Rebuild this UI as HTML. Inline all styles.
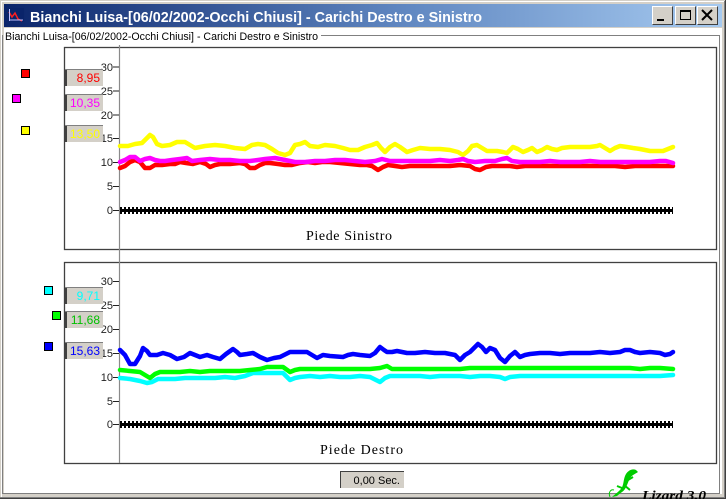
<!DOCTYPE html>
<html><head><meta charset="utf-8"><style>
html,body{margin:0;padding:0;width:726px;height:499px;overflow:hidden;background:#fff}
svg{display:block}
</style></head><body>
<svg width="726" height="499" viewBox="0 0 726 499" xmlns="http://www.w3.org/2000/svg">
<defs>
<linearGradient id="tb" x1="0" x2="1" y1="0" y2="0">
<stop offset="0" stop-color="#0a246a"/><stop offset="0.55" stop-color="#5f86c0"/><stop offset="1" stop-color="#a6caf0"/>
</linearGradient>
<pattern id="zp" x="120" y="0" width="4" height="499" patternUnits="userSpaceOnUse">
<rect x="0" y="0" width="2" height="499" fill="#000"/>
</pattern>
</defs>
<!-- window frame -->
<rect x="0" y="0" width="726" height="499" fill="#d4d0c8"/>
<line x1="1.5" y1="1" x2="1.5" y2="497" stroke="#fff"/>
<line x1="1" y1="1.5" x2="724" y2="1.5" stroke="#fff"/>
<line x1="0" y1="498.5" x2="726" y2="498.5" stroke="#404040"/>
<line x1="0" y1="497.5" x2="726" y2="497.5" stroke="#808080"/>
<line x1="725.5" y1="0" x2="725.5" y2="499" stroke="#404040"/>
<line x1="724.5" y1="1" x2="724.5" y2="498" stroke="#808080"/>
<!-- client -->
<rect x="4" y="28" width="718" height="466" fill="#fff"/>
<!-- title bar -->
<rect x="4" y="4" width="718" height="23" fill="url(#tb)"/>
<g>
<rect x="8" y="8" width="16" height="14" fill="#0a246a"/>
<polyline points="9,12 12,17 15,13 18,19 22,21" fill="none" stroke="#ff2020" stroke-width="1.5"/>
<polyline points="9,20 23,20" stroke="#c0c0ff" stroke-width="1"/>
<line x1="9.5" y1="9" x2="9.5" y2="21" stroke="#c0c0ff"/>
</g>
<text x="30" y="22" font-family="Liberation Sans, sans-serif" font-size="15" font-weight="bold" fill="#fff" textLength="452" lengthAdjust="spacingAndGlyphs">Bianchi Luisa-[06/02/2002-Occhi Chiusi] - Carichi Destro e Sinistro</text>
<!-- buttons -->
<g font-family="Liberation Sans, sans-serif">
<rect x="652" y="6" width="21" height="19" fill="#d4d0c8"/>
<polyline points="652.5,24.5 652.5,6.5 672.5,6.5" fill="none" stroke="#fff"/>
<polyline points="652.5,24.5 672.5,24.5 672.5,6.5" fill="none" stroke="#404040"/>
<rect x="657" y="19" width="7" height="2" fill="#000"/>
<rect x="675" y="6" width="21" height="19" fill="#d4d0c8"/>
<polyline points="675.5,24.5 675.5,6.5 695.5,6.5" fill="none" stroke="#fff"/>
<polyline points="675.5,24.5 695.5,24.5 695.5,6.5" fill="none" stroke="#404040"/>
<rect x="680.5" y="10.5" width="10" height="9" fill="none" stroke="#000"/>
<line x1="680" y1="11.5" x2="691" y2="11.5" stroke="#000"/>
<rect x="697" y="6" width="21" height="19" fill="#d4d0c8"/>
<polyline points="697.5,24.5 697.5,6.5 717.5,6.5" fill="none" stroke="#fff"/>
<polyline points="697.5,24.5 717.5,24.5 717.5,6.5" fill="none" stroke="#404040"/>
<path d="M702 10 L712 20 M712 10 L702 20" stroke="#000" stroke-width="2"/>
</g>
<!-- group box -->
<text x="5" y="40" font-family="Liberation Sans, sans-serif" font-size="11" fill="#000" textLength="313" lengthAdjust="spacingAndGlyphs">Bianchi Luisa-[06/02/2002-Occhi Chiusi] - Carichi Destro e Sinistro</text>
<line x1="321" y1="35.5" x2="720" y2="35.5" stroke="#808080"/>
<line x1="321" y1="36.5" x2="720" y2="36.5" stroke="#fff"/>
<line x1="719.5" y1="35" x2="719.5" y2="493" stroke="#808080"/>
<line x1="2.5" y1="35" x2="2.5" y2="494" stroke="#808080"/>
<line x1="2" y1="493.5" x2="720" y2="493.5" stroke="#808080"/>
<!-- panels -->
<rect x="64.5" y="47.5" width="652" height="202" fill="#fff" stroke="#404040" stroke-width="1.3"/>
<rect x="64.5" y="262.5" width="652" height="201" fill="#fff" stroke="#404040" stroke-width="1.3"/>
<!-- vertical axis -->
<line x1="119.5" y1="45" x2="119.5" y2="463" stroke="#8a8a8a" stroke-width="1.2"/>
<!-- ticks top -->
<g font-family="Liberation Sans, sans-serif" font-size="11" fill="#222" text-anchor="end">
<text x="113" y="71">30</text><text x="113" y="95">25</text><text x="113" y="119">20</text><text x="113" y="142">15</text><text x="113" y="166">10</text><text x="113" y="190">5</text><text x="113" y="214">0</text>
<text x="113" y="285">30</text><text x="113" y="309">25</text><text x="113" y="333">20</text><text x="113" y="357">15</text><text x="113" y="381">10</text><text x="113" y="405">5</text><text x="113" y="428">0</text>
</g>
<g stroke="#222" stroke-width="1">
<path d="M113 67h6M113 91h6M113 115h6M113 138.5h6M113 162.5h6M113 186.5h6M113 210.5h6"/>
<path d="M113 281.5h6M113 305.5h6M113 329.5h6M113 353.5h6M113 377.5h6M113 401.5h6M113 424.5h6"/>
</g>
<!-- zero lines -->
<rect x="120" y="209" width="553" height="3" fill="#000"/>
<rect x="120" y="207" width="553" height="7" fill="url(#zp)"/>
<rect x="120" y="423" width="553" height="3" fill="#000"/>
<rect x="120" y="421" width="553" height="7" fill="url(#zp)"/>
<!-- series top -->
<g fill="none" stroke-width="4.5" stroke-linejoin="round" stroke-linecap="round">
<polyline stroke="#ffff00" points="120,146 128,146 135,144 142,143 147,138 150,135 153,137 157,144 162,146 170,145 177,142 185,142 190,145 195,148 205,146 215,145 225,146 235,148 245,149 252,145 258,144 265,145 272,149 278,153 285,155 290,153 295,145 300,144 305,142 310,146 318,147 325,145 335,146 343,148 350,150 358,150 365,147 372,145 377,143 381,148 385,152 390,147 395,144 400,147 407,152 413,150 420,148 430,149 440,149 450,150 458,152 463,155 468,151 472,146 477,145 482,148 487,151 497,151 503,152 507,153 513,147 518,149 523,152 528,150 532,148 537,152 542,150 547,147 552,149 557,150 562,148 570,147 580,147 590,147 597,146 600,145 605,148 610,151 615,148 620,146 627,147 633,148 640,149 650,151 657,151 663,151 668,149 673,147"/>
<polyline stroke="#ff0000" points="120,168 125,166 130,162 135,160 140,162 145,168 150,168 155,165 162,165 170,164 175,164 180,162 186,163 193,164 200,162 206,164 210,167 215,165 220,164 230,164 240,163 245,164 250,168 255,168 260,165 265,163 270,163 278,164 285,165 292,165 300,163 308,162 315,163 322,162 330,162 340,163 350,164 360,165 367,165 372,166 378,170 383,167 388,165 395,166 402,167 410,166 420,166 430,166 440,166 450,166 460,165 470,166 475,169 480,170 486,167 492,166 500,166 510,166 517,167 525,166 535,166 545,166 555,166 565,166 575,166 585,166 595,166 605,166 615,166 625,167 635,166 645,166 655,166 665,166 673,166"/>
<polyline stroke="#ff00ff" points="120,162 125,160 130,157 135,157 140,161 145,159 150,158 155,160 160,161 165,161 172,160 180,159 187,158 192,161 200,160 210,159 220,160 230,160 240,161 250,161 258,160 265,159 275,158 285,160 295,162 305,162 315,161 325,161 335,160 345,160 355,161 365,162 375,161 382,159 390,161 400,161 410,161 420,161 430,161 440,160 450,161 458,160 463,159 468,161 475,162 485,161 495,161 502,159 507,158 512,161 520,162 530,162 540,162 550,161 560,162 570,162 580,162 590,161 600,162 610,162 620,162 630,162 640,162 650,162 660,161 666,161 673,163"/>
<!-- series bottom -->
<polyline stroke="#0000ff" points="120,350 125,355 130,364 135,364 140,356 143,348 147,351 150,355 157,355 163,353 170,355 177,359 184,357 190,353 195,355 200,357 207,355 213,357 220,359 226,354 233,349 237,352 240,355 247,354 253,353 260,357 267,360 274,358 280,357 290,352 300,352 307,352 312,355 317,358 323,355 330,356 343,357 348,355 353,354 360,355 370,356 375,353 380,347 384,350 387,352 392,352 397,351 402,352 407,353 415,353 425,352 435,353 445,353 455,355 460,360 465,355 470,352 475,347 478,344 482,347 486,352 490,348 495,350 500,358 505,362 510,356 515,352 520,357 525,355 530,354 540,353 550,353 560,354 570,353 580,353 590,353 600,352 610,353 620,352 625,350 630,350 635,352 640,353 650,352 660,353 665,355 670,354 673,352"/>
<polyline stroke="#00ffff" points="120,378 130,379 140,381 147,383 152,382 158,379 165,379 175,379 185,378 195,378 205,378 215,378 225,377 235,378 245,376 253,373 260,373 270,373 283,373 290,380 295,378 300,377 310,376 320,377 330,376 340,377 350,377 360,376 370,377 380,382 385,378 390,376 400,376 410,376 420,376 430,377 440,376 450,376 460,376 470,377 480,376 490,376 500,377 505,379 510,377 520,376 530,376 540,376 550,376 560,376 570,376 580,376 590,376 600,376 610,376 620,376 630,376 640,376 650,376 660,376 673,375"/>
<polyline stroke="#00ff00" points="120,370 130,371 140,372 145,375 150,378 155,374 160,372 170,372 180,372 190,371 200,372 210,371 220,371 230,371 240,371 250,370 260,369 267,367 275,367 283,367 290,372 295,370 300,369 310,369 320,369 330,369 340,369 350,369 360,369 370,369 380,368 387,366 392,369 400,369 410,369 420,369 430,369 440,369 450,369 460,369 470,368 480,368 490,368 500,368 510,368 520,368 530,368 540,368 550,368 560,368 570,368 580,368 590,368 600,368 610,368 620,368 630,368 640,369 650,368 660,368 673,369"/>
</g>
<!-- panel titles -->
<text x="306" y="240" font-family="Liberation Serif, serif" font-size="14" fill="#000" textLength="86" lengthAdjust="spacing">Piede Sinistro</text>
<text x="320" y="454" font-family="Liberation Serif, serif" font-size="14" fill="#000" textLength="83" lengthAdjust="spacing">Piede Destro</text>
<!-- legend squares -->
<g stroke="#000" stroke-width="1">
<rect x="21.5" y="69.5" width="8" height="8" fill="#ff0000"/>
<rect x="12.5" y="94.5" width="8" height="8" fill="#ff00ff"/>
<rect x="21.5" y="126.5" width="8" height="8" fill="#ffff00"/>
<rect x="44.5" y="286.5" width="8" height="8" fill="#00ffff"/>
<rect x="52.5" y="311.5" width="8" height="8" fill="#00ff00"/>
<rect x="44.5" y="342.5" width="8" height="8" fill="#0000ff"/>
</g>
<!-- value boxes -->
<g font-family="Liberation Sans, sans-serif" font-size="12" text-anchor="end">
<g><rect x="65" y="69" width="38" height="17" fill="#d4d0c8"/><rect x="65" y="69" width="2" height="17" fill="#404040"/><rect x="65" y="69" width="38" height="1" fill="#808080"/><text x="100" y="82" fill="#ff0000">8,95</text></g>
<g><rect x="65" y="94" width="38" height="17" fill="#d4d0c8"/><rect x="65" y="94" width="2" height="17" fill="#404040"/><rect x="65" y="94" width="38" height="1" fill="#808080"/><text x="100" y="107" fill="#ff00ff">10,35</text></g>
<g><rect x="65" y="125" width="38" height="17" fill="#d4d0c8"/><rect x="65" y="125" width="2" height="17" fill="#404040"/><rect x="65" y="125" width="38" height="1" fill="#808080"/><text x="100" y="138" fill="#ffff00">13,50</text></g>
<g><rect x="65" y="287" width="38" height="17" fill="#d4d0c8"/><rect x="65" y="287" width="2" height="17" fill="#404040"/><rect x="65" y="287" width="38" height="1" fill="#808080"/><text x="100" y="300" fill="#00ffff">9,71</text></g>
<g><rect x="65" y="311" width="38" height="17" fill="#d4d0c8"/><rect x="65" y="311" width="2" height="17" fill="#404040"/><rect x="65" y="311" width="38" height="1" fill="#808080"/><text x="100" y="324" fill="#00c000">11,68</text></g>
<g><rect x="65" y="342" width="38" height="17" fill="#d4d0c8"/><rect x="65" y="342" width="2" height="17" fill="#404040"/><rect x="65" y="342" width="38" height="1" fill="#808080"/><text x="100" y="355" fill="#0000ff">15,63</text></g>
</g>
<!-- time box -->
<rect x="340" y="471" width="64" height="17" fill="#d4d0c8"/>
<rect x="340" y="471" width="1" height="17" fill="#404040"/>
<rect x="340" y="471" width="64" height="1" fill="#404040"/>
<text x="400" y="484" font-family="Liberation Sans, sans-serif" font-size="11" fill="#000" text-anchor="end">0,00 Sec.</text>
<!-- lizard logo -->
<path d="M636 470 C632 468 627 471 625 476 C623 481 624 486 620 490 C617 493 614 495 612 497 L617 496 C620 493 623 492 625 489 C627 486 628 482 630 478 C632 475 635 474 638 472 Z" fill="#00cc00"/>
<path d="M624 485 L630 490 M622 488 L617 486 M628 480 L633 477" stroke="#00cc00" stroke-width="2"/>
<path d="M610 497 C608 492 611 489 614 490" fill="none" stroke="#00cc00" stroke-width="1"/>
<text x="642" y="500" font-family="Liberation Serif, serif" font-size="14" font-weight="bold" font-style="italic" fill="#000" textLength="64" lengthAdjust="spacingAndGlyphs">Lizard 3.0</text>
</svg>
</body></html>
